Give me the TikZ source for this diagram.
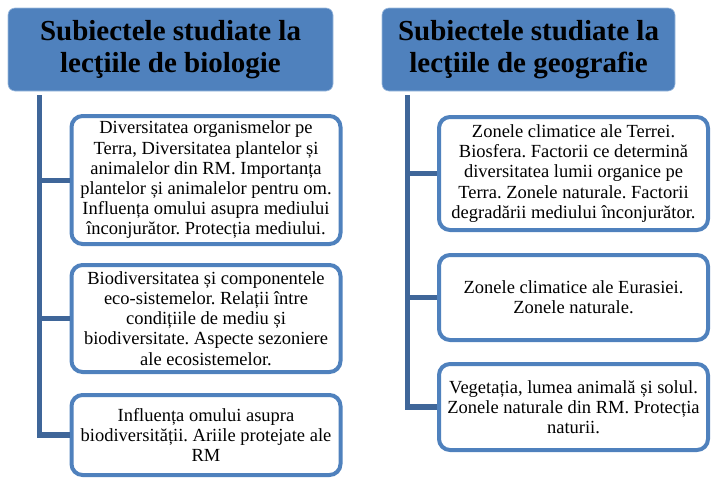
\documentclass[tikz,border=0pt]{standalone}
\usepackage{fontspec}
\setmainfont{Liberation Serif}
\frenchspacing
\usetikzlibrary{positioning,calc}
\definecolor{sbalbastru}{HTML}{4F81BD}
\definecolor{sbbordura}{HTML}{5C8DC8}
\definecolor{sbtrunchi}{HTML}{3F6699}
\tikzset{
  sbtitlu/.style={draw=sbbordura!60!white, line width=0.6pt, fill=sbalbastru, rounded corners=7pt,
                  align=center, font=\fontsize{29}{32.5}\selectfont\bfseries, inner sep=0pt},
  sbcaseta/.style={draw=sbalbastru, line width=4pt, fill=white, rounded corners=11pt, align=center,
                  font=\fontsize{18.5}{20.2}\selectfont, inner sep=0pt, minimum width=269pt},
  sbtrunchi/.style={draw=sbtrunchi, line width=5.5pt},
  sbbrat/.style={draw=sbtrunchi, line width=5pt},
}
\begin{document}
\begin{tikzpicture}[x=1pt, y=-1pt]
        \useasboundingbox (0,0) rectangle (712,479);
        % ---------------- titluri ----------------
        \node[sbtitlu, minimum width=325pt, minimum height=83pt] (hbio) at (170.5,49.5) {Subiectele studiate la\\ lecţiile de biologie};
        \node[sbtitlu, minimum width=293pt, minimum height=83pt] (hgeo) at (528.5,49.5) {Subiectele studiate la\\ lecţiile de geografie};
        % ---------------- biologie ----------------
        \node[sbcaseta, minimum height=128pt] (b1) at (206,180) {Diversitatea organismelor pe\\ Terra, Diversitatea plantelor și\\ animalelor din RM. Importanța\\ plantelor și animalelor pentru om.\\ Influența omului asupra mediului\\ înconjurător. Protecția mediului.};
        \node[sbcaseta, minimum height=107pt] (b2) at (206,318.5) {Biodiversitatea și componentele\\ eco-sistemelor. Relații între\\ condițiile de mediu și\\ biodiversitate. Aspecte sezoniere\\ ale ecosistemelor.};
        \node[sbcaseta, minimum height=80pt] (b3) at (206,435) {Influența omului asupra\\ biodiversității. Ariile protejate ale\\ RM};
        % ---------------- geografie ----------------
        \node[sbcaseta, minimum height=113pt] (g1) at (573.5,173.5) {Zonele climatice ale Terrei.\\ Biosfera. Factorii ce determină\\ diversitatea lumii organice pe\\ Terra. Zonele naturale. Factorii\\ degradării mediului înconjurător.};
        \node[sbcaseta, minimum height=85pt] (g2) at (573.5,297.5) {Zonele climatice ale Eurasiei.\\ Zonele naturale.};
        \node[sbcaseta, minimum height=86pt] (g3) at (573.5,407) {Vegetația, lumea animală și solul.\\ Zonele naturale din RM. Protecția\\ naturii.};
        % ---------------- trunchiuri ----------------
        \coordinate (tb) at ($(hbio.south west)+(32,4)$);
        \coordinate (tg) at ($(hgeo.south west)+(26,4)$);
        \draw[sbtrunchi] (tb) |- (b3.west);
        \draw[sbbrat] (tb |- b1.west) -- (b1.west);
        \draw[sbbrat] (tb |- b2.west) -- (b2.west);
        \draw[sbtrunchi] (tg) |- (g3.west);
        \draw[sbbrat] (tg |- g1.west) -- (g1.west);
        \draw[sbbrat] (tg |- g2.west) -- (g2.west);
    \end{tikzpicture}
\end{document}
